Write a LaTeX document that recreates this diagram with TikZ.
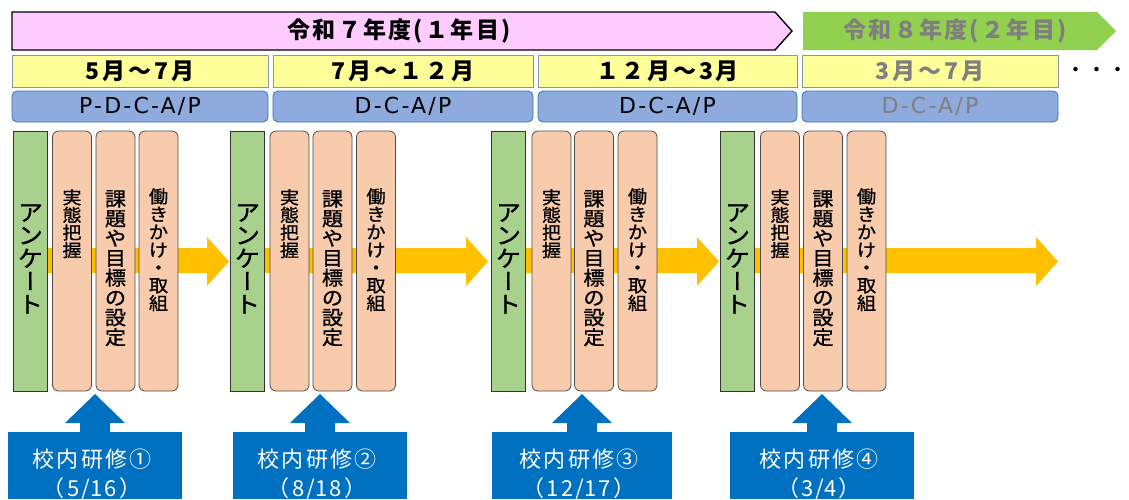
\documentclass[tikz,border=0pt]{standalone}
\usepackage{fontspec}
\usepackage{graphicx}
\setmainfont{Noto Sans CJK JP}
\newfontfamily\latf{DejaVu Sans}[LetterSpace=10]
\newfontfamily\spacedjp{Noto Sans CJK JP}[LetterSpace=10]
\newfontfamily\monthjp{Noto Sans CJK JP}[LetterSpace=12]
\newfontfamily\vjp{Noto Sans CJK JP}[FakeBold=1,FakeStretch=1.08]
\definecolor{pinkfill}{HTML}{FFCCFF}
\definecolor{greenarr}{HTML}{92D050}
\definecolor{yel}{HTML}{FFFF99}
\definecolor{yelborder}{HTML}{8497B0}
\definecolor{bluefill}{HTML}{8FAADC}
\definecolor{blueborder}{HTML}{2E75B6}
\definecolor{colgreen}{HTML}{A9D18E}
\definecolor{peach}{HTML}{F8CBAD}
\definecolor{orangearr}{HTML}{FFC000}
\definecolor{callblue}{HTML}{0070C0}
\definecolor{graytext}{HTML}{7F7F7F}
\newcommand\vbar{{\addfontfeature{RawFeature=+vert}ー}}
\begin{document}
\begin{tikzpicture}[x=1pt,y=-1pt,
  monthbox/.style={draw=yelborder,line width=0.8pt,fill=yel,minimum height=32pt,inner sep=0pt,
    font=\monthjp\fontsize{23}{25}\selectfont\bfseries},
  phasebox/.style={draw=blueborder,line width=0.8pt,fill=bluefill,rounded corners=5pt,minimum height=31pt,inner sep=0pt,
    font=\latf\fontsize{22}{24}\selectfont},
  survey/.style={draw=black!80,line width=0.8pt,fill=colgreen,minimum width=34pt,minimum height=260pt,inner sep=0pt},
  stepcol/.style={draw=black!70,line width=0.8pt,fill=peach,rounded corners=6pt,minimum width=39pt,minimum height=260pt,inner sep=0pt},
  vtxt/.style={anchor=north,align=center,inner sep=0pt},
  callbox/.style={fill=callblue,inner sep=0pt,minimum height=67pt,anchor=north},
  calltxt/.style={text=white,align=center,font=\spacedjp\fontsize{22}{29}\selectfont}
]
\useasboundingbox (0,0) rectangle (1129,499);

% year arrows
\draw[fill=pinkfill,line width=1.4pt] (12,12) -- (775,12) -- (792,31) -- (775,50) -- (12,50) -- cycle;
\node[font=\spacedjp\fontsize{23}{25}\selectfont\bfseries] (y1) at (399,31) {令和７年度(１年目)};
\fill[greenarr] (803,12) -- (1097,12) -- (1116,31) -- (1097,50) -- (803,50) -- cycle;
\node[font=\spacedjp\fontsize{23}{25}\selectfont\bfseries,text=graytext] (y2) at (955,31) {令和８年度(２年目)};

% month boxes
\node[monthbox,minimum width=256pt] (m1) at (140,71.5) {5月～7月};
\node[monthbox,minimum width=260pt] (m2) at (403,71.5) {7月～１２月};
\node[monthbox,minimum width=259pt] (m3) at (667.5,71.5) {１２月～3月};
\node[monthbox,minimum width=256pt,text=graytext] (m4) at (930,71.5) {3月～7月};
\node[font=\fontsize{21}{24}\selectfont] (dots) at (1097,72) {・・・};

% phase boxes
\node[phasebox,minimum width=256pt] (p1) at (140,106.5) {P-D-C-A/P};
\node[phasebox,minimum width=260pt] (p2) at (403,106.5) {D-C-A/P};
\node[phasebox,minimum width=259pt] (p3) at (667.5,106.5) {D-C-A/P};
\node[phasebox,minimum width=256pt,text=graytext] (p4) at (930,106.5) {D-C-A/P};

% orange flow arrows
\foreach \s/\b/\t in {30/207/229, 247/466/488, 508/697/719, 737/1036/1058}{
  \fill[orangearr] (\s,248) -- (\b,248) -- (\b,237) -- (\t,261.5) -- (\b,286) -- (\b,273) -- (\s,273) -- cycle;
}

% columns
\foreach \i/\g/\a/\b/\c in {1/30.5/72/115.5/158.5, 2/247.5/289.5/332.5/376, 3/508.5/551.5/594/637.5, 4/737.5/780/823/866.5}{
  \node[survey] (s\i) at (\g,261) {};
  \node[vtxt,font=\vjp\fontsize{23}{23}\selectfont] (st\i) at (\g,204) {ア\\ン\\ケ\\\vbar\\ト};
  \node[stepcol] (a\i) at (\a,261) {};
  \node[vtxt,font=\vjp\fontsize{17.6}{17.6}\selectfont] (at\i) at (\a,189) {実\\態\\把\\握};
  \node[stepcol] (b\i) at (\b,261) {};
  \node[vtxt,font=\vjp\fontsize{19.6}{19.8}\selectfont] (bt\i) at (\b,190) {課\\題\\や\\目\\標\\の\\設\\定};
  \node[stepcol] (c\i) at (\c,261) {};
  \node[vtxt,font=\vjp\fontsize{17.8}{17.8}\selectfont] (ct\i) at (\c,188) {働\\き\\か\\け\\・\\取\\組};
}

% training callouts
\foreach \i/\x/\w/\d/\n in {1/95/174/5\slash16/①, 2/320/174/8\slash18/②, 3/582/180/12\slash17/③, 4/822/184/3\slash4/④}{
  \node[callbox,minimum width=\w pt] (k\i) at (\x,432) {};
  \fill[callblue] (\x,394) -- (\x+30,423) -- (\x+15,423) -- (\x+15,433) -- (\x-15,433) -- (\x-15,423) -- (\x-30,423) -- cycle;
  \node[calltxt] (kt\i) at (\x-3,475) {校内研修\n\\（\d）};
}
\end{tikzpicture}
\end{document}
